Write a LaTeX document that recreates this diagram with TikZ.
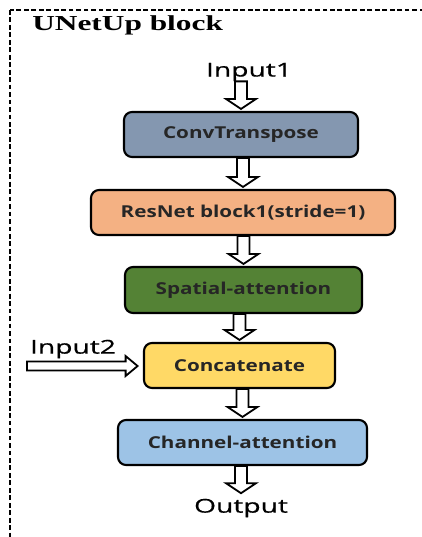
\documentclass[tikz,border=0pt]{standalone}
\usepackage{fontspec}
\usetikzlibrary{calc}
\newfontfamily\titlefont[FakeStretch=1.47]{Liberation Serif}
\newfontfamily\labelfont[FakeStretch=1.48, FakeBold=0.6]{Open Sans}
\newfontfamily\boxfont[FakeStretch=1.26]{Open Sans}
\definecolor{cconv}{HTML}{8497B0}
\definecolor{cres}{HTML}{F4B183}
\definecolor{cspat}{HTML}{548235}
\definecolor{cconc}{HTML}{FFD966}
\definecolor{cchan}{HTML}{9DC3E6}
\definecolor{ctext}{HTML}{262626}
\tikzset{
  stagebox/.style={draw=black, line width=1.6pt, rounded corners=6pt, inner sep=0pt,
    minimum height=33.75pt, font=\boxfont\bfseries\fontsize{12.3pt}{14pt}\selectfont, text=ctext},
  iolabel/.style={inner sep=0pt, font=\labelfont\fontsize{14.3pt}{16pt}\selectfont},
  blockdown/.style={draw=black, fill=white, line width=1.35pt, line join=miter,
    to path={let \p1=(\tikztostart), \p2=(\tikztotarget) in
      (\x2-4.5pt,\y1) -- (\x2-4.5pt,\y2+7.5pt) -- (\x2-11.25pt,\y2+7.5pt) -- (\x2,\y2)
      -- (\x2+11.25pt,\y2+7.5pt) -- (\x2+4.5pt,\y2+7.5pt) -- (\x2+4.5pt,\y1) -- cycle}},
  blockright/.style={draw=black, fill=white, line width=1.35pt, line join=miter,
    to path={let \p1=(\tikztostart), \p2=(\tikztotarget) in
      (\x1,\y1+3.4pt) -- (\x2-9pt,\y1+3.4pt) -- (\x2-9pt,\y1+7.5pt) -- (\x2,\y1)
      -- (\x2-9pt,\y1-7.5pt) -- (\x2-9pt,\y1-3.4pt) -- (\x1,\y1-3.4pt) -- cycle}},
  frame/.style={draw=black, line width=2pt, dash pattern=on 3.6pt off 2pt}
}
\begin{document}
\begin{tikzpicture}[x=0.75pt, y=-0.75pt]
  \useasboundingbox (0,0) rectangle (422,537);
  \clip (0,0) rectangle (422,537);
  \fill[white] (0,0) rectangle (422,537);
  \draw[frame] (10,10) rectangle (440,560);
  \node[anchor=west, inner sep=0pt, font=\titlefont\bfseries\fontsize{16pt}{18pt}\selectfont] (title) at (32,25) {UNetUp block};

  \node[iolabel] (in1) at (249,72) {Input1};
  \node[stagebox, fill=cconv, minimum width=175.5pt] (c1) at (241,134.5) {ConvTranspose};
  \node[stagebox, fill=cres, minimum width=228pt] (c2) at (243,212.5) {ResNet block1(stride=1)};
  \node[stagebox, fill=cspat, minimum width=177.75pt, minimum height=34.5pt] (c3) at (243.5,290) {Spatial-attention};
  \node[stagebox, fill=cconc, minimum width=143.25pt] (c4) at (239.5,365.5) {Concatenate};
  \node[stagebox, fill=cchan, minimum width=186.75pt] (c5) at (242.5,442.5) {Channel-attention};
  \node[iolabel] (out) at (241,508) {Output};
  \node[iolabel] (in2) at (73,349) {Input2};
  \coordinate (i2s) at (27,366);

  \path[blockdown] (in1.south) to ([yshift=1.5pt]c1.north);
  \path[blockdown] (c1.south) to ([yshift=1.5pt]c2.north);
  \path[blockdown] (c2.south) to ([yshift=1.5pt]c3.north);
  \path[blockdown] (c3.south) to ([yshift=1.5pt]c4.north);
  \path[blockdown] (c4.south) to ([yshift=1.5pt]c5.north);
  \path[blockdown] (c5.south) to ([yshift=4pt]out.north);
  \path[blockright] (i2s) to ([xshift=-4pt]c4.west);
\end{tikzpicture}
\end{document}
